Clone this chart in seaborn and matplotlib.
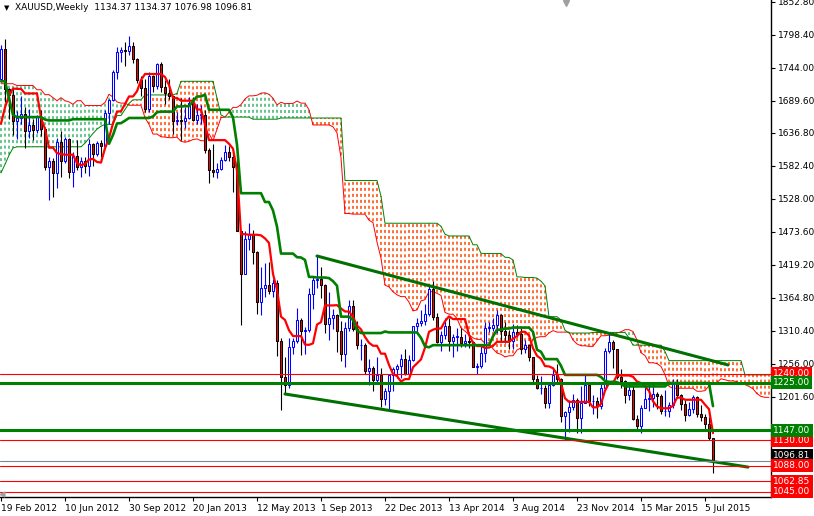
import numpy as np
import matplotlib
matplotlib.use("Agg")
import matplotlib.pyplot as plt
import matplotlib.transforms as mtransforms
import seaborn as sns

# ---------------- data (weekly XAUUSD) ----------------
opens = [1726, 1776, 1710, 1699, 1657, 1662, 1668, 1640, 1650, 1642,
         1663, 1643, 1581, 1591, 1571, 1622, 1591, 1627, 1572, 1599,
         1580, 1590, 1583, 1619, 1602, 1621, 1616, 1670, 1691, 1738,
         1771, 1773, 1772, 1780, 1758, 1724, 1711, 1676, 1731, 1714,
         1751, 1712, 1703, 1697, 1657, 1659, 1656, 1662, 1687, 1658,
         1667, 1667, 1609, 1575, 1572, 1578, 1592, 1605, 1597, 1581,
         1476, 1405, 1462, 1470, 1441, 1358, 1381, 1386, 1376, 1390,
         1294, 1234, 1222, 1284, 1294, 1328, 1310, 1312, 1372, 1395,
         1396, 1387, 1322, 1332, 1337, 1310, 1272, 1315, 1352, 1313,
         1287, 1288, 1244, 1250, 1230, 1238, 1198, 1212, 1237, 1248,
         1252, 1265, 1240, 1262, 1318, 1324, 1327, 1339, 1380, 1333,
         1293, 1304, 1318, 1294, 1301, 1301, 1290, 1294, 1292, 1251,
         1253, 1274, 1316, 1316, 1320, 1337, 1310, 1303, 1294, 1309,
         1306, 1280, 1287, 1268, 1231, 1216, 1217, 1192, 1222, 1238,
         1231, 1171, 1177, 1185, 1197, 1167, 1192, 1222, 1195, 1195,
         1187, 1217, 1277, 1293, 1280, 1234, 1228, 1205, 1213, 1165,
         1153, 1183, 1199, 1200, 1207, 1203, 1178, 1179, 1189, 1225,
         1205, 1190, 1172, 1181, 1201, 1173, 1168, 1157, 1134.37]
highs = [1781, 1792, 1711, 1711, 1673, 1698, 1680, 1677, 1660, 1666,
         1675, 1647, 1597, 1596, 1628, 1640, 1630, 1628, 1605, 1626,
         1598, 1597, 1627, 1620, 1624, 1626, 1675, 1692, 1740, 1778,
         1779, 1787, 1796, 1786, 1760, 1730, 1726, 1737, 1733, 1752,
         1754, 1724, 1725, 1697, 1672, 1694, 1679, 1696, 1696, 1684,
         1683, 1675, 1612, 1619, 1588, 1597, 1617, 1615, 1605, 1590,
         1476, 1476, 1488, 1477, 1443, 1416, 1422, 1424, 1396, 1395,
         1298, 1267, 1299, 1298, 1348, 1331, 1317, 1381, 1400, 1434,
         1416, 1388, 1375, 1346, 1338, 1327, 1326, 1361, 1361, 1327,
         1297, 1290, 1264, 1253, 1267, 1249, 1217, 1240, 1251, 1256,
         1272, 1280, 1270, 1319, 1332, 1345, 1355, 1385, 1392, 1340,
         1311, 1331, 1331, 1305, 1315, 1315, 1305, 1304, 1294, 1258,
         1285, 1325, 1326, 1332, 1345, 1338, 1325, 1312, 1322, 1321,
         1315, 1296, 1287, 1268, 1238, 1236, 1222, 1225, 1249, 1256,
         1233, 1178, 1197, 1207, 1200, 1219, 1238, 1225, 1205, 1202,
         1227, 1282, 1307, 1296, 1281, 1247, 1230, 1224, 1219, 1172,
         1188, 1219, 1224, 1224, 1209, 1206, 1213, 1194, 1232, 1232,
         1207, 1196, 1194, 1205, 1204, 1189, 1174, 1168, 1134.37]
lows = [1720, 1688, 1660, 1634, 1627, 1652, 1612, 1628, 1626, 1636,
        1632, 1576, 1527, 1532, 1546, 1564, 1588, 1562, 1548, 1576,
        1565, 1570, 1566, 1582, 1599, 1598, 1615, 1652, 1690, 1726,
        1754, 1748, 1765, 1752, 1719, 1697, 1672, 1672, 1705, 1710,
        1704, 1684, 1692, 1635, 1650, 1626, 1645, 1660, 1656, 1652,
        1651, 1604, 1554, 1565, 1562, 1576, 1590, 1590, 1539, 1475,
        1321, 1405, 1444, 1420, 1338, 1337, 1366, 1371, 1366, 1269,
        1180, 1208, 1216, 1272, 1291, 1271, 1272, 1308, 1346, 1381,
        1364, 1307, 1295, 1314, 1276, 1261, 1251, 1311, 1311, 1281,
        1262, 1240, 1221, 1211, 1223, 1185, 1189, 1182, 1211, 1233,
        1233, 1238, 1237, 1261, 1307, 1318, 1321, 1335, 1329, 1290,
        1277, 1297, 1277, 1268, 1277, 1284, 1284, 1283, 1251, 1240,
        1250, 1259, 1309, 1310, 1307, 1292, 1290, 1281, 1281, 1300,
        1273, 1274, 1261, 1226, 1214, 1207, 1183, 1183, 1220, 1226,
        1161, 1131, 1144, 1180, 1142, 1142, 1191, 1186, 1173, 1167,
        1181, 1215, 1274, 1250, 1232, 1216, 1191, 1197, 1163, 1147,
        1142, 1183, 1178, 1185, 1182, 1173, 1170, 1169, 1183, 1200,
        1180, 1162, 1170, 1175, 1168, 1162, 1146, 1131, 1076.98]
closes = [1776, 1710, 1699, 1657, 1662, 1668, 1640, 1650, 1642, 1663,
          1643, 1581, 1591, 1571, 1622, 1591, 1627, 1572, 1599, 1580,
          1590, 1583, 1619, 1602, 1621, 1616, 1670, 1691, 1738, 1771,
          1773, 1772, 1780, 1758, 1724, 1711, 1676, 1731, 1714, 1751,
          1712, 1703, 1697, 1657, 1659, 1656, 1662, 1687, 1658, 1667,
          1667, 1609, 1575, 1572, 1578, 1592, 1605, 1597, 1581, 1476,
          1405, 1462, 1470, 1441, 1358, 1381, 1386, 1376, 1390, 1294,
          1234, 1222, 1284, 1294, 1328, 1310, 1312, 1372, 1395, 1396,
          1387, 1322, 1332, 1337, 1310, 1272, 1315, 1352, 1313, 1287,
          1288, 1244, 1250, 1230, 1238, 1198, 1212, 1237, 1248, 1252,
          1265, 1240, 1262, 1318, 1324, 1327, 1339, 1380, 1333, 1293,
          1304, 1318, 1294, 1301, 1301, 1290, 1294, 1292, 1251, 1253,
          1274, 1316, 1316, 1320, 1337, 1310, 1303, 1294, 1309, 1306,
          1280, 1287, 1268, 1231, 1216, 1217, 1192, 1222, 1238, 1231,
          1171, 1177, 1185, 1197, 1167, 1192, 1222, 1195, 1195, 1187,
          1217, 1277, 1293, 1280, 1234, 1228, 1205, 1213, 1165, 1153,
          1183, 1199, 1200, 1207, 1203, 1178, 1179, 1189, 1225, 1205,
          1190, 1172, 1181, 1201, 1173, 1168, 1157, 1134, 1096.81]

# Ichimoku lines as drawn on the chart
tenkan = [1652, 1679, 1698, 1710, 1709.5, 1709.5, 1702, 1702, 1702, 1702,
          1661.5, 1643.5, 1612.5, 1612.5, 1603.5, 1602, 1601, 1601, 1601, 1587,
          1583.5, 1586, 1593, 1594, 1589, 1588, 1611.5, 1628.5, 1652.5, 1672,
          1672.5, 1684.5, 1697, 1697, 1705.5, 1724, 1734, 1734, 1734, 1734,
          1734, 1729, 1716, 1694.5, 1694.5, 1690, 1690, 1690, 1690, 1675.5,
          1675.5, 1650.5, 1625, 1625, 1625, 1625, 1625, 1619, 1611, 1575,
          1470, 1470, 1469, 1469, 1469, 1468, 1463, 1455.5, 1404.5, 1378.5,
          1334, 1328.5, 1311.5, 1302, 1302, 1302, 1288, 1287.5, 1290, 1321,
          1325, 1352.5, 1352.5, 1352.5, 1353, 1347.5, 1342.5, 1342.5, 1333.5, 1319.5,
          1313, 1300.5, 1291, 1286, 1286, 1273, 1273, 1254.5, 1239.5, 1236,
          1227, 1231, 1231, 1250.5, 1257, 1263.5, 1283, 1309, 1312.5, 1314.5,
          1314.5, 1326.5, 1334.5, 1330, 1330, 1330, 1330, 1304, 1291, 1285.5,
          1285.5, 1282.5, 1283, 1286, 1292.5, 1292.5, 1292.5, 1292.5, 1297.5, 1302,
          1309, 1309, 1303, 1282, 1269.5, 1264.5, 1252.5, 1252, 1249, 1239.5,
          1224, 1199.5, 1193.5, 1193.5, 1193.5, 1193.5, 1193.5, 1193.5, 1184.5, 1184.5,
          1190, 1212, 1224.5, 1224.5, 1237, 1237, 1237, 1237, 1235, 1227,
          1224.5, 1219, 1211.5, 1194.5, 1186, 1183, 1183, 1183, 1187, 1200.5,
          1200.5, 1197, 1197, 1197, 1197, 1197, 1189, 1181.5, 1142]
kijun = ([1722, 1722, 1694, 1666.5] + [1663] * 7 + [1659] + [1657.5] * 6 + [1659.5] * 9
         + [1619, 1633.5, 1652.5, 1653, 1657] + [1661.5] * 6 + [1664, 1671] + [1672] * 4
         + [1680.5] * 2 + [1681] * 2 + [1689] + [1697] * 2 + [1700] + [1675] * 6
         + [1662.5, 1617.5] + [1537.5] * 6 + [1523] * 2 + [1509, 1482.5] + [1438] * 4
         + [1432, 1431.5, 1427.5] + [1399.5] * 2 + [1398.5] * 3 + [1397.5, 1392.5, 1385]
         + [1334] * 3 + [1328.5, 1311.5] + [1307] * 6 + [1309.5] + [1308] * 8
         + [1299, 1285, 1283.5] + [1287] * 15 + [1301.5] + [1312.5] * 2 + [1314.5] * 2
         + [1316] * 5 + [1309, 1279.5, 1276] + [1264] * 4 + [1253] + [1238] * 9
         + [1234.5, 1228] + [1226.5] * 2 + [1226, 1223] + [1219] * 11 + [1224.5] * 11 + [1186.5])
span_a = [1718, 1718, 1718, 1718, 1715, 1715, 1715, 1715, 1715, 1708,
          1708, 1700, 1700, 1695, 1690, 1695, 1690, 1688, 1684, 1690,
          1690, 1682, 1682, 1682, 1682, 1682,
          1687, 1700.5, 1696, 1688, 1686, 1686, 1682.5, 1682.5, 1682.5, 1682.5,
          1662, 1651, 1635, 1635, 1630.5, 1630, 1629, 1629, 1630, 1623,
          1621.5, 1623, 1626, 1627, 1624, 1624, 1635.5, 1624, 1643, 1662,
          1663, 1671, 1679, 1679, 1683.5, 1693, 1698, 1698, 1699, 1702.5,
          1703, 1700.5, 1694, 1683, 1687.5, 1685, 1685.5, 1685.5, 1689.5, 1686,
          1686, 1675, 1650, 1650, 1650, 1650, 1650, 1647, 1637, 1596,
          1504, 1504, 1503, 1503, 1503, 1503, 1493, 1489, 1457, 1430.5,
          1386, 1383, 1375, 1370, 1367, 1367, 1358, 1343.5, 1345, 1360,
          1362, 1375.5, 1375, 1372.5, 1369, 1341, 1338, 1338, 1331, 1315.5,
          1310, 1304, 1299, 1296.5, 1296.5, 1290, 1291, 1281, 1274, 1272,
          1267.5, 1269.5, 1269.5, 1279, 1282.5, 1281, 1284, 1296, 1300, 1301,
          1301, 1307, 1311, 1308.5, 1308.5, 1308.5, 1308.5, 1295.5, 1289, 1286,
          1286, 1285, 1285, 1294, 1302.5, 1302.5, 1303.5, 1303.5, 1307, 1309,
          1312.5, 1312.5, 1309.5, 1295.5, 1274.5, 1270, 1258, 1258, 1256.5, 1252,
          1238.5, 1219, 1216, 1216, 1216, 1216, 1216, 1216, 1211, 1211,
          1212, 1220, 1225.5, 1225.5, 1231.5, 1230, 1228, 1228, 1227, 1223,
          1222, 1219, 1215, 1207, 1202.5, 1201, 1201]
span_b = ([1571, 1585, 1600, 1612] + [1614] * 17 + [1620, 1628, 1636, 1643, 1648]
          + [1651] * 3 + [1665.5] * 2 + [1675.5, 1685.5] + [1691.5] * 3 + [1699.5] * 8
          + [1702] + [1722] * 9 + [1694, 1666.5] + [1663] * 7 + [1659.5] * 7
          + [1661.5] * 16 + [1558.5] * 9 + [1532.5] + [1488] * 14 + [1483, 1470]
          + [1467] * 6 + [1452.5] * 2 + [1438.5] + [1438] * 5 + [1432, 1431.5, 1427.5]
          + [1399.5] * 2 + [1398.5] * 3 + [1397.5, 1392.5, 1385] + [1334] * 3
          + [1328.5, 1311.5] + [1307] * 6 + [1308] * 9 + [1299] + [1287] * 8
          + [1276.5] + [1261.5] * 19 + [1238] * 7)

date_positions = [0, 16, 32, 48, 64, 80, 96, 112, 128, 144, 160, 176]
date_labels = ["19 Feb 2012", "10 Jun 2012", "30 Sep 2012", "20 Jan 2013",
               "12 May 2013", "1 Sep 2013", "22 Dec 2013", "13 Apr 2014",
               "3 Aug 2014", "23 Nov 2014", "15 Mar 2015", "5 Jul 2015"]
price_ticks = [1852.80, 1798.40, 1744.00, 1689.60, 1636.80, 1582.40, 1528.00,
               1473.60, 1419.20, 1364.80, 1310.40, 1256.00, 1201.60]

red_levels = [1240.00, 1130.00, 1088.00, 1062.85, 1045.00]
green_levels = [1225.00, 1147.00]
last_price = 1096.81
upper_trend_x = [79, 181.75]
upper_trend_y = [1434.0, 1254.4]
lower_trend_x = [71, 186.75]
lower_trend_y = [1206.5, 1086.0]
title_text = "XAUUSD,Weekly  1134.37 1134.37 1076.98 1096.81"

# ---------------- drawing ----------------
sns.set_theme(style="white")
plt.rcParams['font.family'] = ['DejaVu Sans']
plt.rcParams['lines.scale_dashes'] = False

W, H = 814, 516
YMIN, YMAX = 1036.7, 1856.0
fig = plt.figure(figsize=(W / 100, H / 100), dpi=100, facecolor="white")
ax = fig.add_axes([0, 19 / H, 771 / W, 497 / H])
ax.set_facecolor("white")

o = np.array(opens, float); hi = np.array(highs, float)
lo = np.array(lows, float); c = np.array(closes, float)
idx = np.arange(len(c))

# cloud: one dotted vertical stroke per bar between span A and span B
A = np.array(span_a, float); B = np.array(span_b, float)
px_per_price = 497.0 / (YMAX - YMIN)
dash_pt = 2.16          # 3 px on, 3 px off
period_pt = 2 * dash_pt
for j in range(len(A)):
    lo_v, hi_v = min(A[j], B[j]), max(A[j], B[j])
    col = "#3CB371" if A[j] >= B[j] else "#FF4500"
    off = ((lo_v - YMIN) * px_per_price * 0.72) % period_pt
    ax.plot([j, j], [lo_v, hi_v], color=col, linewidth=1.1,
            linestyle=(off, (dash_pt, dash_pt)), solid_capstyle="butt",
            dash_capstyle="butt", zorder=1)
sns.lineplot(x=np.arange(len(A)), y=A, ax=ax, color="#FF0000", linewidth=0.7, zorder=2,
             estimator=None, sort=False)
sns.lineplot(x=np.arange(len(B)), y=B, ax=ax, color="#008000", linewidth=0.7, zorder=2,
             estimator=None, sort=False)

# candles
bull = c >= o
ax.vlines(idx[bull], lo[bull], hi[bull], colors="#0000FF", linewidth=0.8, zorder=3)
ax.vlines(idx[~bull], lo[~bull], hi[~bull], colors="black", linewidth=0.8, zorder=3)
bh = np.maximum(np.abs(c - o), 0.6)
ax.bar(idx[bull], bh[bull], bottom=o[bull], width=0.5, facecolor="white",
       edgecolor="#0000FF", linewidth=0.75, zorder=3.2)
ax.bar(idx[~bull], bh[~bull], bottom=c[~bull], width=0.5, facecolor="#FF0000",
       edgecolor="black", linewidth=0.75, zorder=3.2)

# tenkan / kijun
sns.lineplot(x=idx, y=np.array(tenkan, float), ax=ax, color="#FF0000", linewidth=1.6,
             zorder=4, estimator=None, sort=False)
sns.lineplot(x=idx, y=np.array(kijun, float), ax=ax, color="#008000", linewidth=1.9,
             zorder=4.1, estimator=None, sort=False)

# trend lines and levels
ax.plot(upper_trend_x, upper_trend_y, color="#007000", linewidth=2.2, zorder=5)
ax.plot(lower_trend_x, lower_trend_y, color="#007000", linewidth=2.2, zorder=5)
for v in red_levels:
    ax.axhline(v, color="#FF0000", linewidth=0.8, zorder=5)
for v in green_levels:
    ax.axhline(v, color="#008000", linewidth=2.2, zorder=5)
ax.axhline(last_price, color="#778899", linewidth=0.8, zorder=5)

ax.set_xlim(-0.25, 192.5)
ax.set_ylim(YMIN, YMAX)

# axes styling
for s in ["left", "top"]:
    ax.spines[s].set_visible(False)
for s in ["right", "bottom"]:
    ax.spines[s].set_visible(True)
    ax.spines[s].set_color("black")
    ax.spines[s].set_linewidth(1.0)
ax.yaxis.tick_right()
ax.set_yticks(price_ticks)
ax.set_yticklabels([f"{v:.2f}" for v in price_ticks])
ax.set_xticks(date_positions)
ax.set_xticklabels(date_labels, ha="left")
ax.tick_params(axis="y", which="both", right=True, left=False, direction="out",
               length=3, width=0.8, color="black", labelsize=6.5, pad=2,
               labelcolor="black")
ax.tick_params(axis="x", which="both", bottom=True, direction="out", length=3,
               width=0.8, color="black", labelsize=6.5, pad=2, labelcolor="black")
ax.grid(False)
ax.set_xlabel(""); ax.set_ylabel("")

# price labels on the right scale
trans = mtransforms.blended_transform_factory(ax.transAxes, ax.transData)
def price_tag(v, fc, z, y=None):
    ax.text(1.003, v if y is None else y, f"{v:.2f}", transform=trans, fontsize=6.5,
            color="white", va="center", ha="left", zorder=z, clip_on=False,
            bbox=dict(boxstyle="square,pad=0.22", fc=fc, ec="none"))

# the current-price tag sits just above the 1088 tag (partly hidden in the original)
price_tag(last_price, "black", 20, y=last_price + 8.5)
for v in red_levels:
    price_tag(v, "#FF0000", 21)
for v in green_levels:
    price_tag(v, "#008000", 21)

# header
fig.text(4 / W, 1 - 8 / H, "\u25BC", fontsize=5, color="black", va="center", ha="left")
fig.text(15 / W, 1 - 8 / H, title_text, fontsize=6.5, color="black", va="center",
         ha="left")
# chart-shift markers
ax.plot([566 / 771], [0.994], transform=ax.transAxes, marker="v", markersize=4,
        color="#A0A0A0", clip_on=False, zorder=30)
ax.plot([0.003], [0.006], transform=ax.transAxes, marker="<", markersize=3.5,
        color="#A0A0A0", clip_on=False, zorder=30)

fig.savefig("out.png", dpi=100, facecolor="white")
